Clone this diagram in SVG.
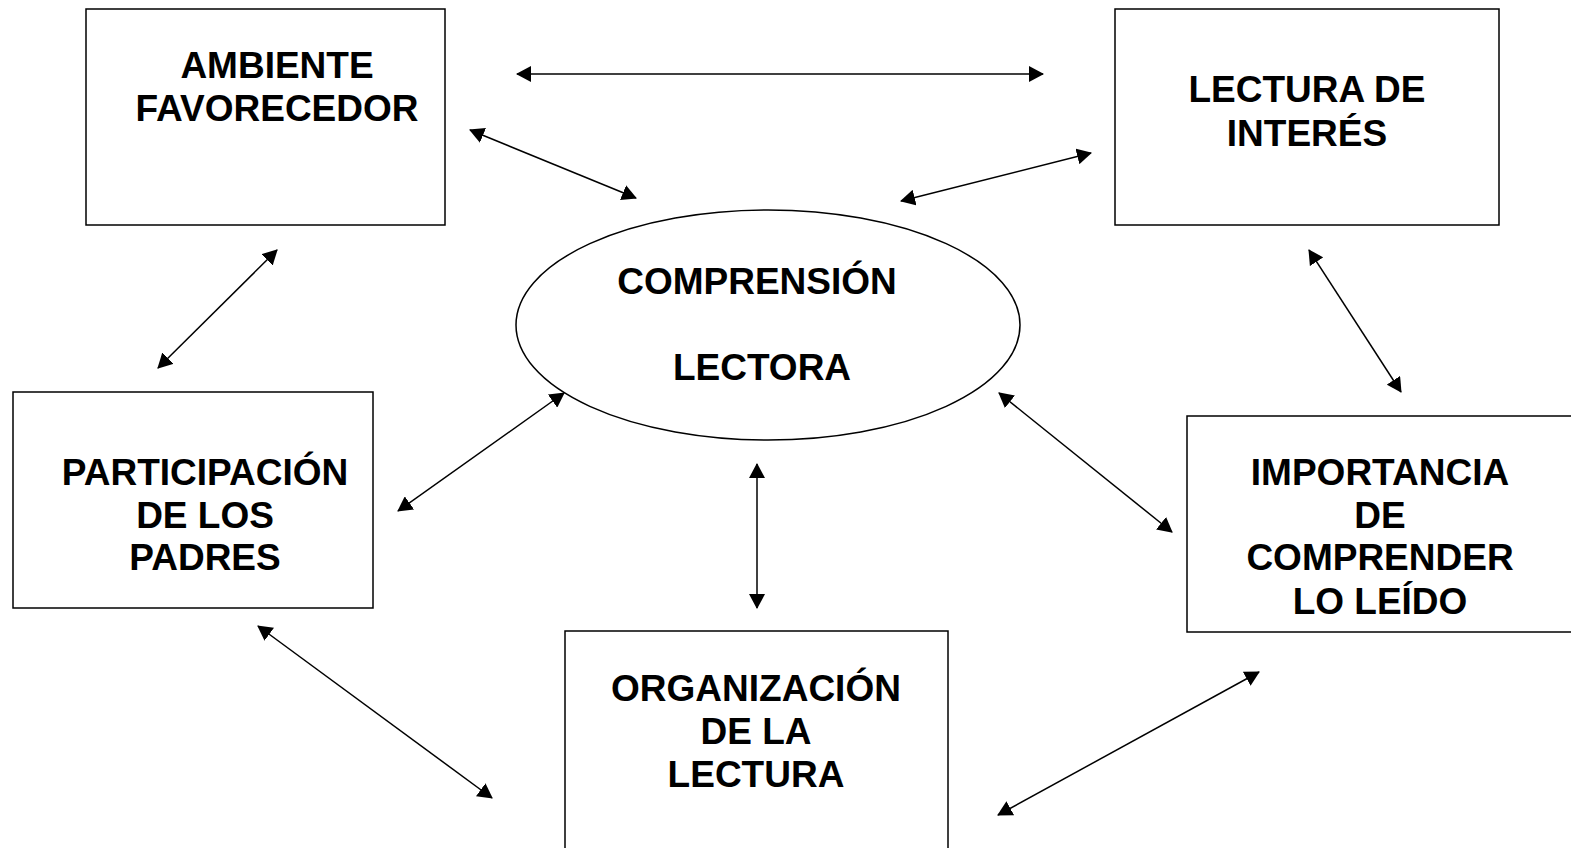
<svg xmlns="http://www.w3.org/2000/svg" width="1571" height="848" viewBox="0 0 1571 848">
<style>
.box{fill:#fff;stroke:#000;stroke-width:1.5}
.lbl{font-family:"Liberation Sans",Arial,sans-serif;font-weight:bold;font-size:37px;fill:#000;text-anchor:middle}
.con{stroke:#000;stroke-width:1.5;fill:none;marker-start:url(#ah);marker-end:url(#ah)}
</style>
<defs>
<marker id="ah" markerUnits="userSpaceOnUse" markerWidth="16" markerHeight="16" refX="14" refY="8" orient="auto-start-reverse">
<path d="M0,0 L15,8 L0,16 z" fill="#000"/>
</marker>
</defs>
<rect width="1571" height="848" fill="#fff"/>
<g id="ambiente">
<rect class="box" x="86" y="9" width="359" height="216"/>
<text class="lbl" x="277" y="78">AMBIENTE</text>
<text class="lbl" x="277" y="121">FAVORECEDOR</text>
</g>
<g id="lectura-interes">
<rect class="box" x="1115" y="9" width="384" height="216"/>
<text class="lbl" x="1307" y="102">LECTURA DE</text>
<text class="lbl" x="1307" y="146">INTERÉS</text>
</g>
<g id="comprension">
<ellipse class="box" cx="768" cy="325" rx="252" ry="115"/>
<text class="lbl" x="757" y="294">COMPRENSIÓN</text>
<text class="lbl" x="762" y="380">LECTORA</text>
</g>
<g id="participacion">
<rect class="box" x="13" y="392" width="360" height="216"/>
<text class="lbl" x="205" y="485">PARTICIPACIÓN</text>
<text class="lbl" x="205" y="528">DE LOS</text>
<text class="lbl" x="205" y="570">PADRES</text>
</g>
<g id="importancia">
<rect class="box" x="1187" y="416" width="400" height="216"/>
<text class="lbl" x="1380" y="485">IMPORTANCIA</text>
<text class="lbl" x="1380" y="528">DE</text>
<text class="lbl" x="1380" y="570">COMPRENDER</text>
<text class="lbl" x="1380" y="614">LO LEÍDO</text>
</g>
<g id="organizacion">
<rect class="box" x="565" y="631" width="383" height="240"/>
<text class="lbl" x="756" y="701">ORGANIZACIÓN</text>
<text class="lbl" x="756" y="744">DE LA</text>
<text class="lbl" x="756" y="787">LECTURA</text>
</g>
<g id="connectors">
<line class="con" x1="517" y1="74" x2="1043" y2="74"/>
<line class="con" x1="470" y1="130" x2="636" y2="198"/>
<line class="con" x1="901" y1="201" x2="1091" y2="153"/>
<line class="con" x1="277" y1="250" x2="158" y2="368"/>
<line class="con" x1="1309" y1="250" x2="1401" y2="392"/>
<line class="con" x1="564" y1="393" x2="398" y2="511"/>
<line class="con" x1="999" y1="393" x2="1172" y2="532"/>
<line class="con" x1="757" y1="464" x2="757" y2="608"/>
<line class="con" x1="258" y1="626" x2="492" y2="798"/>
<line class="con" x1="998" y1="815" x2="1259" y2="672"/>
</g>
</svg>
